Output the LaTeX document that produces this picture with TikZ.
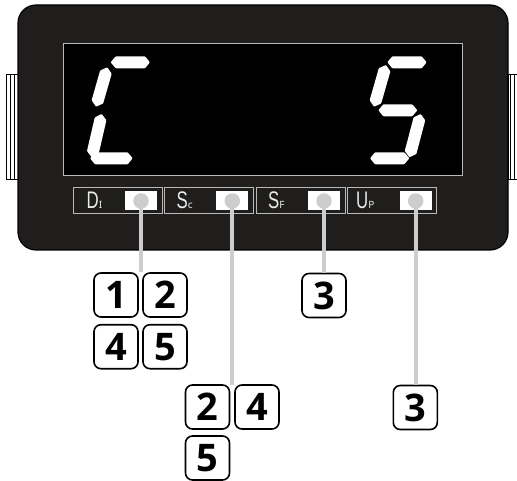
\documentclass[tikz,border=0pt]{standalone}
\usepackage{fontspec}
\setmainfont{Noto Sans}
\newfontfamily\labfont{Liberation Sans}
\newfontfamily\numfont{Open Sans}
\usetikzlibrary{calc}
\definecolor{bodyc}{RGB}{31,30,29}
\definecolor{lgray}{RGB}{205,205,205}
\definecolor{frameg}{RGB}{185,185,185}
\definecolor{labtext}{RGB}{235,235,235}
\newcommand{\lcdseg}[2]{\fill[white,rounded corners=0.8pt] (#1) -- ($(#1)!5pt!(#2)!6pt!90:(#2)$) -- ($(#2)!5pt!(#1)!6pt!-90:(#1)$) -- (#2) -- ($(#2)!5pt!(#1)!6pt!90:(#1)$) -- ($(#1)!5pt!(#2)!6pt!-90:(#2)$) -- cycle;}
\newcommand{\lablet}[2]{\scalebox{0.7}[1]{\labfont\fontsize{24}{24}\selectfont #1\fontsize{#2}{#2}\selectfont}}
\tikzset{
  labbox/.style={draw=frameg, line width=0.9pt, fill=bodyc, minimum width=89pt, minimum height=26pt, inner sep=0pt},
  whitebox/.style={fill=white, minimum width=32pt, minimum height=19pt, inner sep=0pt},
  led/.style={circle, fill=lgray, minimum size=15.5pt, inner sep=0pt},
  conn/.style={draw=lgray, line width=4pt},
  numbox/.style={draw=black, line width=1.6pt, rounded corners=7pt, fill=white, minimum width=44pt, minimum height=44pt, inner sep=0pt, font=\numfont\bfseries\fontsize{38}{38}\selectfont},
  labtxt/.style={anchor=base west, inner sep=0pt, text=labtext}
}
\begin{document}
\begin{tikzpicture}[x=1pt,y=-1pt]
\useasboundingbox (0,0) rectangle (517,481);
% side tabs
\draw[black, line width=1pt, fill=white] (6.7,75) rectangle (18,180);
\draw[black, line width=1pt] (10.5,75) -- (10.5,180) (14.8,75) -- (14.8,180);
\draw[black, line width=1pt, fill=white] (508,75) rectangle (520,180);
\draw[black, line width=1pt] (510.6,75) -- (510.6,180) (514.8,75) -- (514.8,180);
% body
\draw[black, line width=1.2pt, fill=bodyc, rounded corners=18pt] (18,5) rectangle (508,250);
% display
\draw[frameg, line width=1pt, fill=black] (63.5,43.5) rectangle (462,176);
% digit C
\lcdseg{110.7,62.3}{150,62.3}
\lcdseg{107.3,67.3}{96,106.7}
\lcdseg{101.7,114}{91.7,157.3}
\lcdseg{90,158.3}{132.7,158.3}
% digit S
\lcdseg{387.3,62.3}{426.7,62.3}
\lcdseg{386,65}{374,106.7}
\lcdseg{378.3,110.3}{417.3,110.3}
\lcdseg{420.7,114}{409.3,157.3}
\lcdseg{370,158.3}{409.3,158.3}
% label boxes
\node[labbox] (b1) at (117.5,200.4) {};
\node[labbox] (b2) at (208.5,200.4) {};
\node[labbox] (b3) at (300.5,200.4) {};
\node[labbox] (b4) at (391.5,200.4) {};
\node[whitebox] (w1) at (141,200.5) {};
\node[whitebox] (w2) at (232.3,200.5) {};
\node[whitebox] (w3) at (324,200.5) {};
\node[whitebox] (w4) at (415.7,200.5) {};
\node[labtxt] (t1) at (86.5,208.3) {\lablet{D}{8}I};
\node[labtxt] (t2) at (176.5,208.3) {\lablet{S}{10}c};
\node[labtxt] (t3) at (268,208.3) {\lablet{S}{8}F};
\node[labtxt] (t4) at (356,208.3) {\lablet{U}{8}P};
% number boxes
\node[numbox] (n1) at (116,295) {1};
\node[numbox] (n2) at (165,295) {2};
\node[numbox] (n4) at (116,346.7) {4};
\node[numbox] (n5) at (165,346.7) {5};
\node[numbox] (k3) at (324,295.5) {3};
\node[numbox] (m2) at (207.5,407) {2};
\node[numbox] (m4) at (257,407) {4};
\node[numbox] (m5) at (207.5,458) {5};
\node[numbox] (r3) at (415.3,407.5) {3};
\coordinate (g1) at (141,272.5);
\coordinate (g2) at (232.3,384.5);
% LEDs and connectors
\coordinate (c1) at (141,201);
\coordinate (c2) at (232.3,201);
\coordinate (c3) at (324,201);
\coordinate (c4) at (415.7,201);
\draw[conn] (c1) -- (g1);
\draw[conn] (c2) -- (g2);
\draw[conn] (c3) -- (c3 |- k3.north);
\draw[conn] (c4) -- (c4 |- r3.north);
\node[led] (l1) at (c1) {};
\node[led] (l2) at (c2) {};
\node[led] (l3) at (c3) {};
\node[led] (l4) at (c4) {};
\end{tikzpicture}
\end{document}
